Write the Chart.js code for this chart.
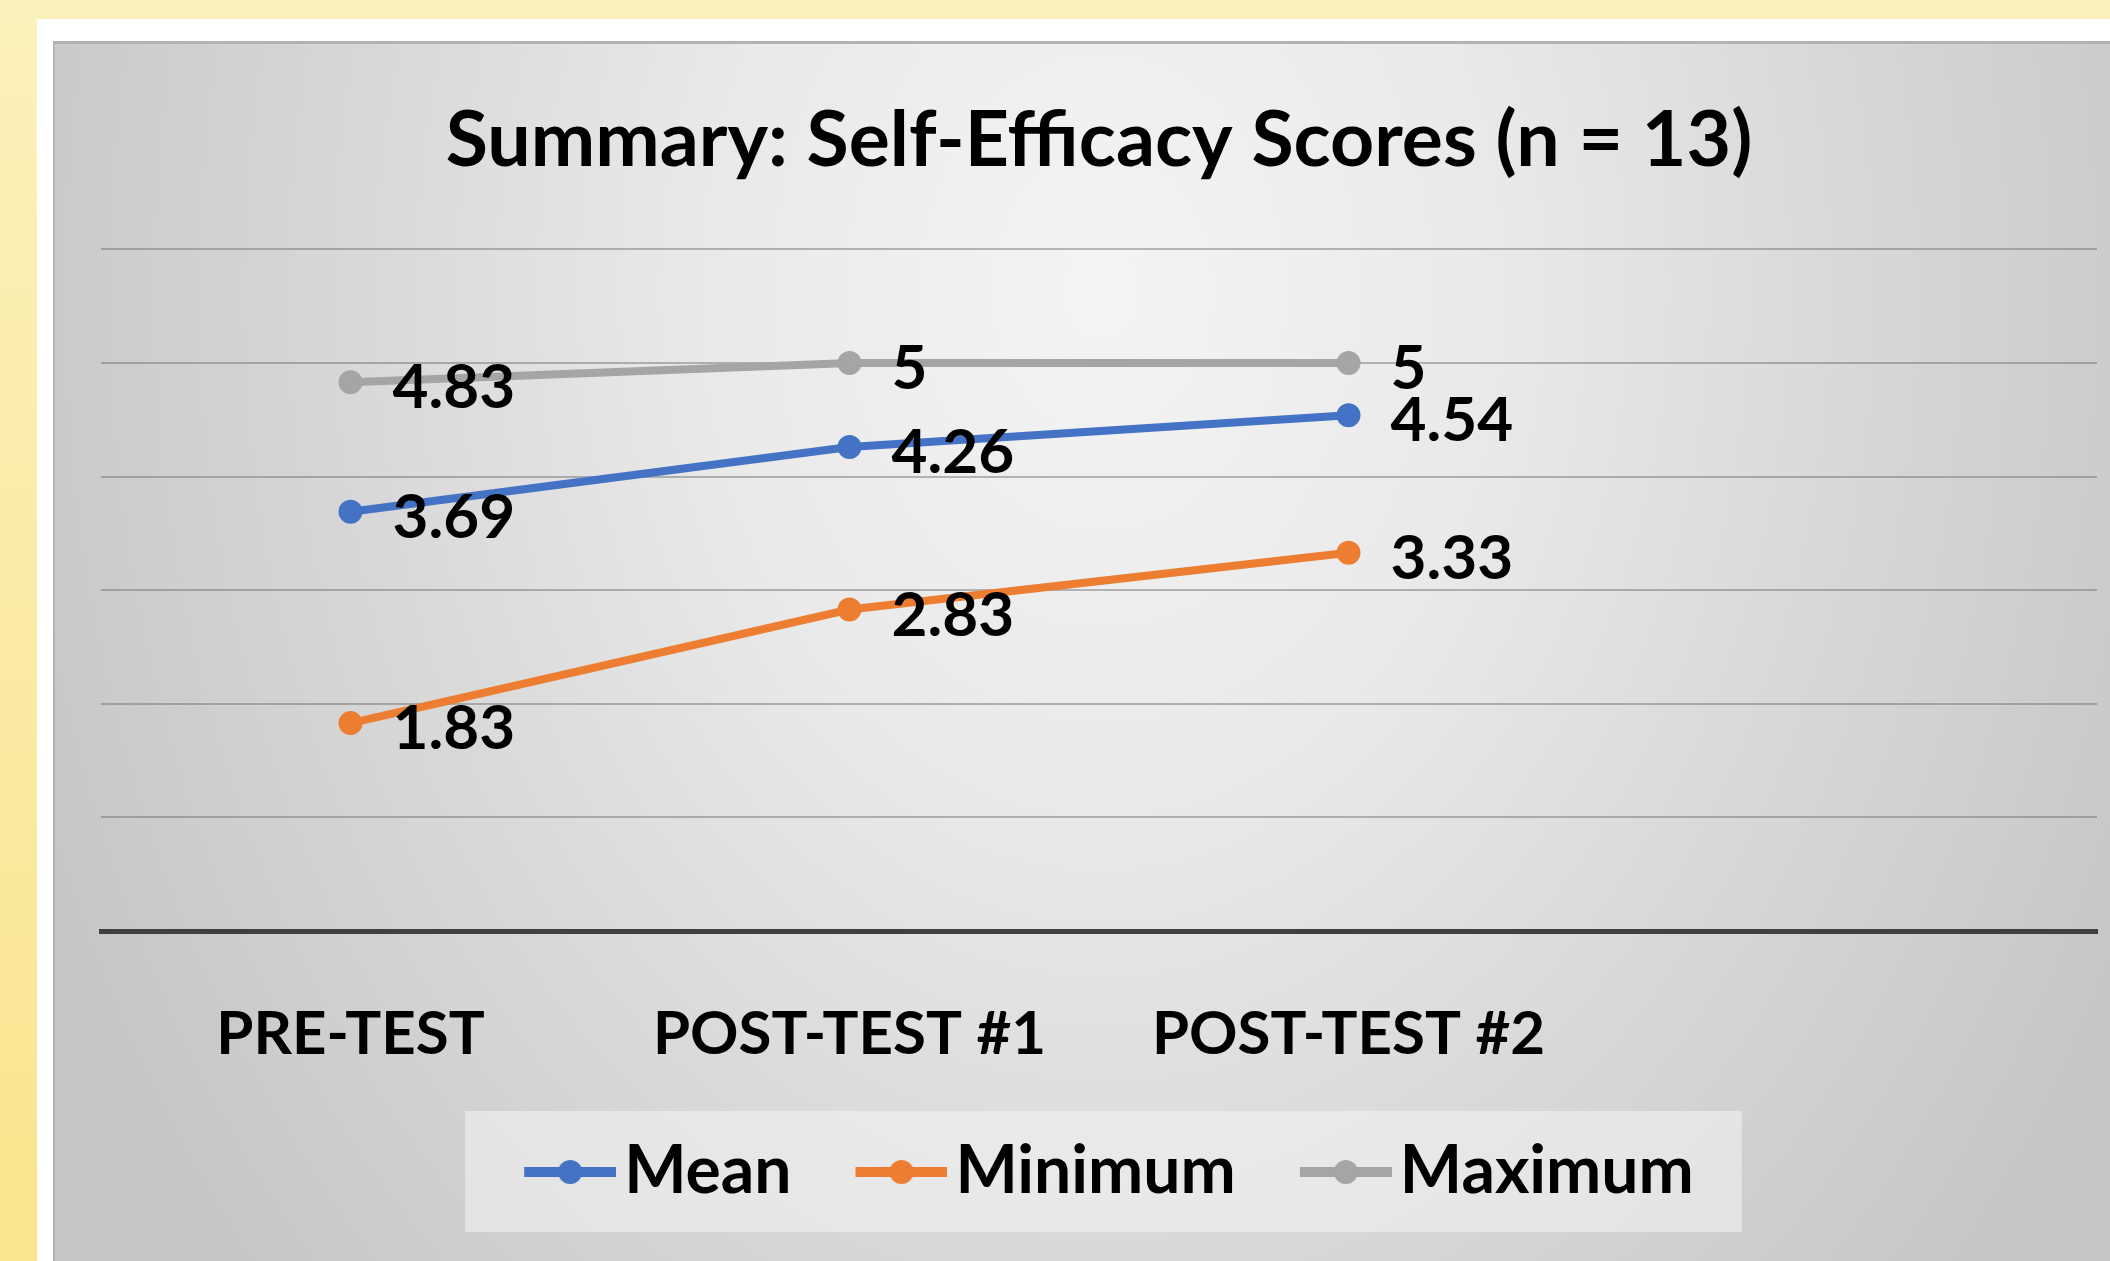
<!DOCTYPE html>
<html>
<head>
<meta charset="utf-8">
<title>Summary: Self-Efficacy Scores (n = 13)</title>
<script src="https://cdn.jsdelivr.net/npm/chart.js@4.4.1/dist/chart.umd.min.js"></script>
<style>
  html, body { margin: 0; padding: 0; }
  body {
    width: 2110px;
    height: 1261px;
    overflow: hidden;
    position: relative;
    background: linear-gradient(to bottom, #fbf1bc, #fae48d);
  }
  #frame {
    position: absolute;
    left: 37px; top: 19px; right: 0; bottom: 0;
    background: #fff;
  }
  #panel {
    position: absolute;
    left: 53px; top: 41px;
    width: 2057px; height: 1220px;
    background: radial-gradient(ellipse 1150px 1500px at 1050px 250px,
      #f4f4f4 0%, #e9e9e9 35%, #d8d8d8 65%, #c6c6c6 100%);
    box-shadow: inset 2px 3px 0 #b2b2b2;
  }
  #chart { position: absolute; left: 0; top: 0; }
</style>
</head>
<body>
<div id="frame"></div>
<div id="panel">
  <canvas id="chart" width="2057" height="1220"></canvas>
</div>
<script>
const categories = ["PRE-TEST", "POST-TEST #1", "POST-TEST #2", ""];
const meanScores = [3.69, 4.26, 4.54];
const minScores = [1.83, 2.83, 3.33];
const maxScores = [4.83, 5, 5];
const seriesNames = ["Mean", "Minimum", "Maximum"];
const seriesColors = ["#4472c4", "#ed7d31", "#a5a5a5"];
const yMin = 0;
const yMax = 6;

const FONT = 'Lato, "Liberation Sans", sans-serif';

// line-with-dot legend marker; the line sits at the right end of the image
function legendMarker(color) {
  const c = document.createElement("canvas");
  c.width = 181;
  c.height = 30;
  const g = c.getContext("2d");
  g.strokeStyle = color;
  g.lineWidth = 10;
  g.beginPath();
  g.moveTo(89, 15);
  g.lineTo(181, 15);
  g.stroke();
  g.fillStyle = color;
  g.beginPath();
  g.arc(135, 15, 12, 0, Math.PI * 2);
  g.fill();
  return c;
}
const markers = seriesColors.map(legendMarker);

// nudge the legend row so its visible part sits centred under the plot
const legendNudge = {
  id: "legendNudge",
  afterLayout(chart) {
    const lg = chart.legend;
    if (!lg) return;
    lg.left -= 22;
    lg.right -= 22;
  }
};

const legendPanel = {
  id: "legendPanel",
  beforeDraw(chart) {
    const boxes = chart.legend && chart.legend.legendHitBoxes;
    if (!boxes || !boxes.length) return;
    const first = boxes[0];
    const last = boxes[boxes.length - 1];
    const left = first.left + 5;
    const right = last.left + last.width + 48;
    const top = first.top - 28;
    const bottom = first.top + first.height + 27;
    const ctx = chart.ctx;
    ctx.save();
    ctx.fillStyle = "rgba(244,244,244,0.55)";
    ctx.fillRect(left, top, right - left, bottom - top);
    ctx.restore();
  }
};

const pointLabels = {
  id: "pointLabels",
  afterDatasetsDraw(chart) {
    const ctx = chart.ctx;
    ctx.save();
    ctx.font = "bold 62px " + FONT;
    ctx.fillStyle = "#000";
    ctx.textAlign = "left";
    ctx.textBaseline = "middle";
    chart.data.datasets.forEach((ds, i) => {
      chart.getDatasetMeta(i).data.forEach((pt, j) => {
        const v = ds.data[j];
        if (v == null) return;
        ctx.fillText(String(v), pt.x + 42, pt.y + 6);
      });
    });
    ctx.restore();
  }
};

function series(name, values, color) {
  return {
    label: name,
    data: values,
    borderColor: color,
    backgroundColor: color,
    borderWidth: 8,
    pointRadius: 11,
    pointBorderWidth: 2,
    pointBackgroundColor: color,
    pointBorderColor: color,
    tension: 0,
    clip: false
  };
}

new Chart(document.getElementById("chart"), {
  type: "line",
  data: {
    labels: categories,
    datasets: [
      series(seriesNames[0], meanScores, seriesColors[0]),
      series(seriesNames[1], minScores, seriesColors[1]),
      series(seriesNames[2], maxScores, seriesColors[2])
    ]
  },
  options: {
    responsive: false,
    animation: false,
    events: [],
    layout: { padding: { left: 48, right: 13, top: 0, bottom: 46 } },
    plugins: {
      title: {
        display: true,
        text: "Summary: Self-Efficacy Scores (n = 13)",
        color: "#000",
        font: { family: FONT, size: 77, weight: "bold", lineHeight: 1.2 },
        padding: { top: 54, bottom: 62 }
      },
      legend: {
        position: "bottom",
        labels: {
          usePointStyle: true,
          pointStyleWidth: 131,
          padding: 0,
          color: "#000",
          font: { family: FONT, size: 66, weight: "bold" },
          generateLabels(chart) {
            const items = Chart.defaults.plugins.legend.labels.generateLabels(chart);
            items.forEach(it => { it.pointStyle = markers[it.datasetIndex]; });
            return items;
          }
        }
      },
      tooltip: { enabled: false }
    },
    scales: {
      x: {
        offset: true,
        grid: { display: false, drawTicks: false },
        border: { display: true, color: "#404040", width: 5 },
        ticks: {
          color: "#000",
          font: { family: FONT, size: 60, weight: "bold", lineHeight: 1.1 },
          padding: 71,
          maxRotation: 0,
          autoSkip: false
        }
      },
      y: {
        min: yMin,
        max: yMax,
        ticks: { display: false, stepSize: 1 },
        border: { display: false },
        grid: {
          drawTicks: false,
          lineWidth: 2,
          color: c => (c.tick && c.tick.value === 0) ? "rgba(0,0,0,0)" : "rgba(105,105,105,0.45)"
        }
      }
    }
  },
  plugins: [legendNudge, legendPanel, pointLabels]
});
</script>
</body>
</html>
